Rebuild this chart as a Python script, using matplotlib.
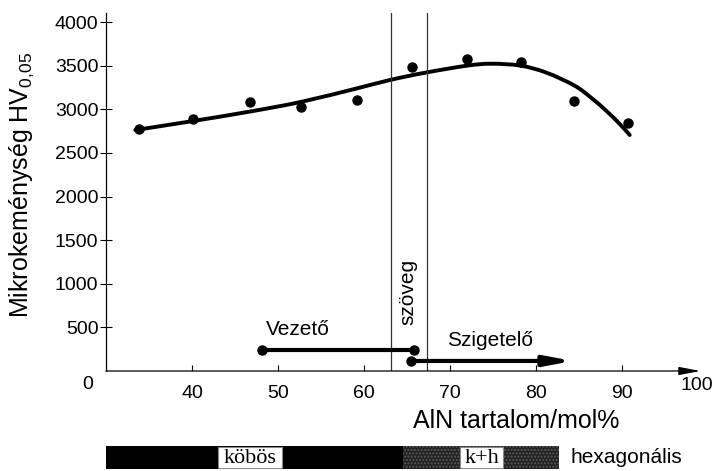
import matplotlib
matplotlib.use("Agg")
import matplotlib.pyplot as plt
from matplotlib.path import Path
from matplotlib.patches import PathPatch

plt.rcParams['font.family'] = ['Liberation Sans', 'DejaVu Sans']
plt.rcParams['mathtext.fontset'] = 'custom'
plt.rcParams['mathtext.rm'] = 'Liberation Sans'
plt.rcParams['mathtext.it'] = 'Liberation Sans:italic'
plt.rcParams['mathtext.default'] = 'regular'

# measured points
pts_x = [33.8, 40.1, 46.8, 52.7, 59.2, 65.6, 72.0, 78.2, 84.4, 90.7]
pts_y = [2770, 2890, 3080, 3030, 3110, 3488, 3573, 3538, 3098, 2840]

# fitted trend curve
curve_x = [33.4, 40.1, 46.8, 52.7, 59.2, 63.0, 67.1, 72.0, 74.8, 78.2, 81.2, 84.5, 86.5, 88.2, 89.8, 90.9]
curve_y = [2762, 2865, 2975, 3085, 3240, 3335, 3419, 3500, 3522, 3500, 3420, 3270, 3125, 2980, 2825, 2705]

# phase boundaries (vertical lines)
boundaries = [63.1, 67.3]

# conductor / insulator ranges
vez_x = [48.1, 65.8]
vez_y = 240
szig_x = [65.5, 84.3]
szig_y = 115

xticks = [40, 50, 60, 70, 80, 90]
yticks = [500, 1000, 1500, 2000, 2500, 3000, 3500, 4000]

# phase bar
bar_solid = (30, 64.5)
bar_mixed = (64.5, 82.7)
box_kobos = (43.0, 50.5)
box_kh = (71.2, 76.2)

W, H = 719, 471
fig = plt.figure(figsize=(W / 100, H / 100), dpi=100)
ax = fig.add_axes([106 / W, 100 / H, 602 / W, 357.7 / H])
ax.set_xlim(30, 100)
ax.set_ylim(0, 4100)
for s in ax.spines.values():
    s.set_visible(False)

# axes lines
ax.plot([30, 30], [0, 4100], color='black', lw=0.9, clip_on=False)
ax.annotate('', xy=(99.1, 0), xytext=(30, 0),
            arrowprops=dict(arrowstyle='-|>,head_length=1.3,head_width=0.25',
                            lw=0.9, color='black', shrinkA=0, shrinkB=0,
                            mutation_scale=10),
            annotation_clip=False)

ax.set_xticks(xticks)
ax.set_yticks(yticks)
ax.tick_params(axis='x', direction='in', length=4, width=0.8, pad=10, labelsize=14)
ax.tick_params(axis='y', direction='inout', length=9, width=0.8, pad=1, labelsize=14)
ax.set_xticklabels([str(t) for t in xticks])
ax.set_yticklabels([str(t) for t in yticks])
ax.text(27.9, -160, '0', ha='center', va='center', fontsize=14, clip_on=False)
ax.text(98.7, -170, '100', ha='center', va='center', fontsize=14, clip_on=False)

for b in boundaries:
    ax.axvline(b, color='#333333', lw=0.9, ymin=0, ymax=1)

# smooth rendering of the trend curve (Catmull-Rom -> Bezier in display space)
tr = ax.transData
disp = tr.transform(list(zip(curve_x, curve_y)))
verts = [tuple(disp[0])]
codes = [Path.MOVETO]
n = len(disp)
for i in range(n - 1):
    p0 = disp[i - 1] if i > 0 else disp[i]
    p1 = disp[i]
    p2 = disp[i + 1]
    p3 = disp[i + 2] if i + 2 < n else disp[i + 1]
    c1 = p1 + (p2 - p0) / 6.0
    c2 = p2 - (p3 - p1) / 6.0
    verts += [tuple(c1), tuple(c2), tuple(p2)]
    codes += [Path.CURVE4] * 3
inv = tr.inverted()
verts_data = inv.transform(verts)
ax.add_patch(PathPatch(Path(verts_data, codes), facecolor='none', edgecolor='black',
                       lw=2.8, capstyle='round', joinstyle='round'))
ax.plot(pts_x, pts_y, 'o', color='black', ms=6.5)

# conductor arrow
ax.plot(vez_x, [vez_y, vez_y], color='black', lw=3, marker='o', ms=6.5)
ax.text(52.3, 470, 'Vezető', ha='center', va='center', fontsize=15)
# insulator arrow
ax.plot([szig_x[0]], [szig_y], 'o', color='black', ms=6.5)
ax.annotate('', xy=(szig_x[1], szig_y), xytext=(szig_x[0], szig_y),
            arrowprops=dict(arrowstyle='-|>,head_length=1.6,head_width=0.3',
                            lw=3, color='black', shrinkA=0, shrinkB=0,
                            mutation_scale=10, joinstyle='round'))
ax.text(74.6, 355, 'Szigetelő', ha='center', va='center', fontsize=15)
ax.text(65.1, 905, 'szöveg', ha='center', va='center', rotation=90, fontsize=15)

fig.text(516 / W, 1 - 421 / H, 'AlN tartalom/mol%', ha='center', va='center', fontsize=18)
fig.text(22 / W, 1 - 185 / H, 'Mikrokeménység HV$_{0{,}05}$', ha='center', va='center',
         rotation=90, fontsize=18)

# phase bar
bx = fig.add_axes([106 / W, 2 / H, 602 / W, 23 / H])
bx.set_xlim(30, 100)
bx.set_ylim(0, 1)
bx.axis('off')
bx.barh(0.5, bar_solid[1] - bar_solid[0], left=bar_solid[0], height=1, color='black')
bx.barh(0.5, bar_mixed[1] - bar_mixed[0], left=bar_mixed[0], height=1,
        color='#222222', hatch='.....', edgecolor='#5a5a5a', lw=0)
bx.barh(0.5, box_kobos[1] - box_kobos[0], left=box_kobos[0], height=0.92,
        color='white', edgecolor='#888888', lw=0.8)
bx.barh(0.5, box_kh[1] - box_kh[0], left=box_kh[0], height=0.92,
        color='white', edgecolor='#888888', lw=0.8)
bx.text(sum(box_kobos) / 2, 0.45, 'köbös', ha='center', va='center', fontsize=16,
        family=['Liberation Serif', 'DejaVu Serif'])
bx.text(sum(box_kh) / 2, 0.45, 'k+h', ha='center', va='center', fontsize=16,
        family=['Liberation Serif', 'DejaVu Serif'])
bx.text(84.0, 0.5, 'hexagonális', ha='left', va='center', fontsize=15)

fig.savefig('out.png', dpi=100)
